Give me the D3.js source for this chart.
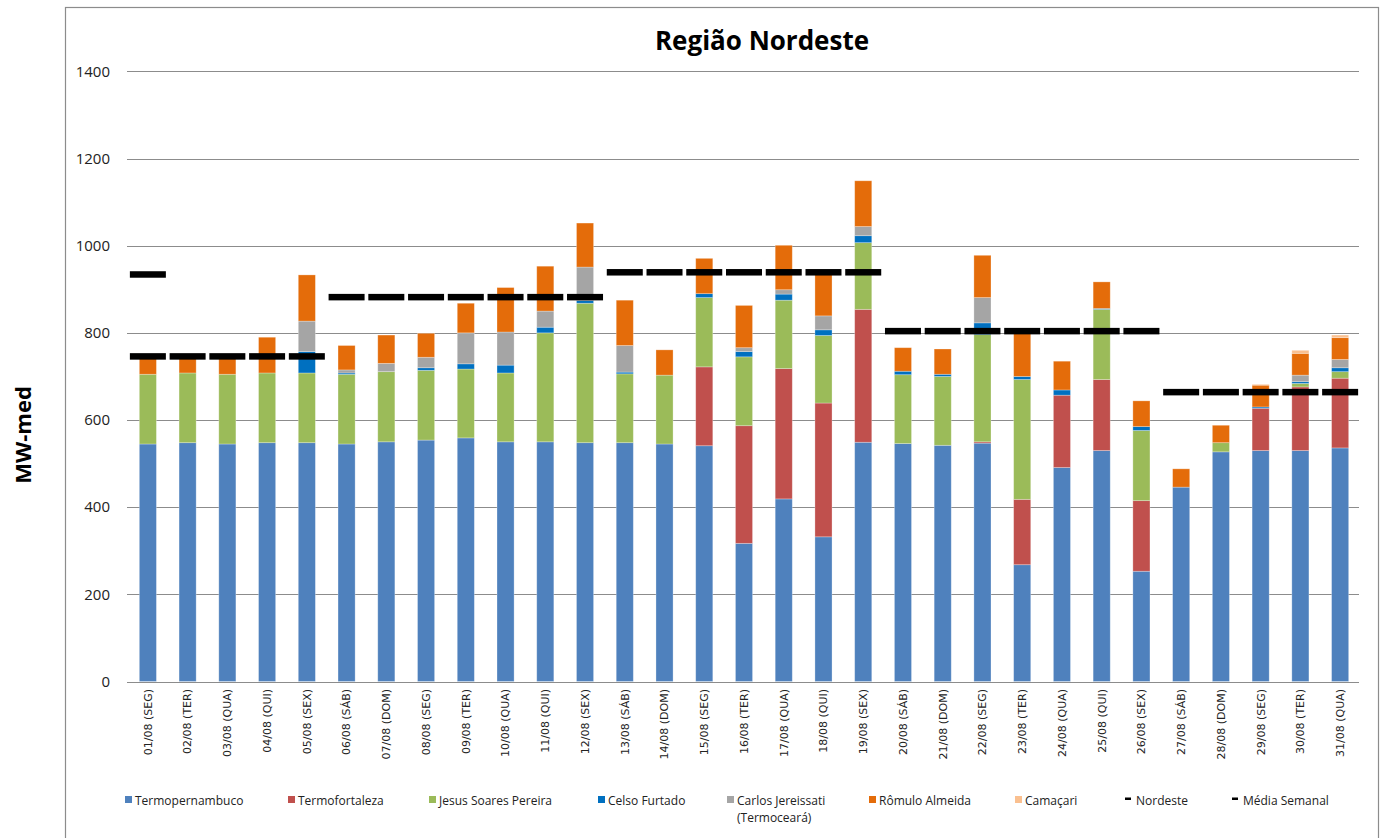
<!DOCTYPE html>
<html>
<head>
<meta charset="utf-8">
<script src="https://cdn.jsdelivr.net/npm/d3@7"></script>
<style>
    body { margin: 0; background: #fff; }
</style>
</head>
<body>
<div id="chart"></div>
<script>
// categories
const days = ["01/08 (SEG)", "02/08 (TER)", "03/08 (QUA)", "04/08 (QUI)", "05/08 (SEX)", "06/08 (SÁB)", "07/08 (DOM)",
    "08/08 (SEG)", "09/08 (TER)", "10/08 (QUA)", "11/08 (QUI)", "12/08 (SEX)", "13/08 (SÁB)", "14/08 (DOM)",
    "15/08 (SEG)", "16/08 (TER)", "17/08 (QUA)", "18/08 (QUI)", "19/08 (SEX)", "20/08 (SÁB)", "21/08 (DOM)",
    "22/08 (SEG)", "23/08 (TER)", "24/08 (QUA)", "25/08 (QUI)", "26/08 (SEX)", "27/08 (SÁB)", "28/08 (DOM)",
    "29/08 (SEG)", "30/08 (TER)", "31/08 (QUA)"];

// series values (MW-med)
const termopernambuco = [545, 548, 545, 548, 548, 545, 550, 554, 559, 550, 550, 548, 548, 545, 541, 317, 419, 332, 549, 546, 542, 547, 268, 491, 530, 253, 446, 527, 530, 530, 536];
const termofortaleza = [0, 0, 0, 0, 0, 0, 0, 0, 0, 0, 0, 0, 0, 0, 181, 270, 299, 307, 305, 0, 0, 3, 150, 166, 163, 162, 0, 0, 97, 146, 160];
const jesusSoares = [160, 160, 160, 160, 160, 160, 161, 160, 158, 158, 250, 320, 158, 158, 159, 158, 157, 155, 153, 158, 158, 246, 275, 0, 161, 161, 0, 21, 0, 8, 15];
const celsoFurtado = [0, 0, 0, 0, 49, 3, 0, 6, 12, 18, 13, 6, 4, 0, 9, 12, 14, 13, 16, 8, 5, 27, 7, 12, 2, 9, 0, 0, 3, 4, 9];
const carlosJereissati = [0, 0, 0, 0, 70, 7, 19, 24, 71, 76, 37, 77, 61, 0, 0, 9, 10, 32, 21, 0, 0, 58, 0, 0, 0, 0, 0, 0, 0, 15, 19];
const romuloAlmeida = [40, 37, 40, 82, 106, 56, 65, 55, 68, 102, 103, 101, 104, 58, 81, 97, 102, 96, 105, 54, 58, 97, 100, 66, 61, 59, 42, 40, 50, 50, 50];
const camacari = [0, 0, 0, 0, 0, 0, 0, 0, 0, 0, 0, 0, 0, 0, 0, 0, 0, 0, 0, 0, 0, 0, 0, 0, 0, 0, 0, 0, 2, 7, 6];

// line series (dash markers)
const nordeste = [934, null, null, null, null, null, null, null, null, null, null, null, null, null, null, null,
    null, null, null, null, null, null, null, null, null, null, null, null, null, null, null];
const mediaSemanal = [746, 746, 746, 746, 746, 882, 882, 882, 882, 882, 882, 882, 939, 939, 939, 939, 939, 939, 939,
    804, 804, 804, 804, 804, 804, 804, 664, 664, 664, 664, 664];

const yTicks = [0, 200, 400, 600, 800, 1000, 1200, 1400];

const series = [
    { key: "Termopernambuco", values: termopernambuco, color: "#4f81bd" },
    { key: "Termofortaleza", values: termofortaleza, color: "#c0504d" },
    { key: "Jesus Soares Pereira", values: jesusSoares, color: "#9bbb59" },
    { key: "Celso Furtado", values: celsoFurtado, color: "#0070c0" },
    { key: "Carlos Jereissati (Termoceará)", values: carlosJereissati, color: "#a5a5a5" },
    { key: "Rômulo Almeida", values: romuloAlmeida, color: "#e46c0a" },
    { key: "Camaçari", values: camacari, color: "#fac090" }
];

const width = 1384, height = 838;
const font = "Open Sans, Liberation Sans, sans-serif";

const svg = d3.select("#chart")
    .append("svg")
    .attr("width", width)
    .attr("height", height)
    .attr("font-family", font);

// chart border
svg.append("rect")
    .attr("x", 65.5)
    .attr("y", 7.5)
    .attr("width", 1313)
    .attr("height", 840)
    .attr("fill", "none")
    .attr("stroke", "#8c8c8c")
    .attr("stroke-width", 1.2);

const x = d3.scaleBand()
    .domain(days)
    .range([128, 1360])
    .paddingInner(0.57)
    .paddingOuter(0.285);

const y = d3.scaleLinear()
    .domain([0, 1400])
    .range([681.5, 71.4]);

// gridlines
svg.append("g")
    .selectAll("line")
    .data(yTicks)
    .join("line")
    .attr("x1", 127)
    .attr("x2", 1359)
    .attr("y1", d => Math.round(y(d)) + 0.5)
    .attr("y2", d => Math.round(y(d)) + 0.5)
    .attr("stroke", "#8c8c8c")
    .attr("stroke-width", 1.2);

// y tick labels
svg.append("g")
    .selectAll("text")
    .data(yTicks)
    .join("text")
    .attr("x", 110)
    .attr("y", d => y(d))
    .attr("dy", "0.35em")
    .attr("text-anchor", "end")
    .attr("font-size", "15px")
    .attr("fill", "#222")
    .text(d => d);

// stacked bars
const table = days.map((d, i) => {
    const row = { day: d };
    series.forEach(s => { row[s.key] = s.values[i]; });
    return row;
});

const stack = d3.stack().keys(series.map(s => s.key));
const layers = stack(table);

svg.append("g")
    .selectAll("g")
    .data(layers)
    .join("g")
    .attr("fill", (d, i) => series[i].color)
    .selectAll("rect")
    .data(d => d.filter(p => p[1] - p[0] > 0))
    .join("rect")
    .attr("x", d => x(d.data.day))
    .attr("width", x.bandwidth())
    .attr("y", d => y(d[1]))
    .attr("height", d => y(d[0]) - y(d[1]))
    .attr("stroke", "#ffffff")
    .attr("stroke-opacity", 0.35)
    .attr("stroke-width", 0.8);

// dash markers
const dashW = 36, dashH = 6.5;

function drawDashes(values) {
    svg.append("g")
        .selectAll("rect")
        .data(days.map((d, i) => ({ day: d, v: values[i] })).filter(d => d.v != null))
        .join("rect")
        .attr("x", d => x(d.day) + x.bandwidth() / 2 - dashW / 2)
        .attr("y", d => y(d.v) - dashH / 2)
        .attr("width", dashW)
        .attr("height", dashH)
        .attr("fill", "#000");
}
drawDashes(mediaSemanal);
drawDashes(nordeste);

// x tick labels
svg.append("g")
    .selectAll("text")
    .data(days)
    .join("text")
    .attr("transform", d => `translate(${x(d) + x.bandwidth() / 2},689) rotate(-90)`)
    .attr("text-anchor", "end")
    .attr("dy", "0.35em")
    .attr("font-family", "DejaVu Sans, sans-serif")
    .attr("font-size", "11px")
    .attr("fill", "#222")
    .text(d => d);

// title
svg.append("text")
    .attr("x", 762)
    .attr("y", 50)
    .attr("text-anchor", "middle")
    .attr("font-size", "26px")
    .attr("font-weight", "bold")
    .text("Região Nordeste");

// y axis title
svg.append("text")
    .attr("transform", "translate(31,435) rotate(-90)")
    .attr("text-anchor", "middle")
    .attr("font-size", "22px")
    .attr("font-weight", "bold")
    .text("MW-med");

// legend
const legendX = [125, 288, 429, 598, 727, 869, 1015];
const legend = svg.append("g");

series.forEach((s, i) => {
    legend.append("rect")
        .attr("x", legendX[i])
        .attr("y", 796)
        .attr("width", 7)
        .attr("height", 7)
        .attr("fill", s.color);

    const lines = s.key === "Carlos Jereissati (Termoceará)" ? ["Carlos Jereissati", "(Termoceará)"] : [s.key];
    lines.forEach((t, j) => {
        legend.append("text")
            .attr("x", legendX[i] + 10)
            .attr("y", 805 + j * 17)
            .attr("font-size", "12px")
            .attr("fill", "#222")
            .text(t);
    });
});

[{ key: "Nordeste", x: 1125 }, { key: "Média Semanal", x: 1232 }].forEach(l => {
    legend.append("rect")
        .attr("x", l.x)
        .attr("y", 797.5)
        .attr("width", 6)
        .attr("height", 2.5)
        .attr("fill", "#000");
    legend.append("text")
        .attr("x", l.x + 11)
        .attr("y", 805)
        .attr("font-size", "12px")
        .attr("fill", "#222")
        .text(l.key);
});
</script>
</body>
</html>
